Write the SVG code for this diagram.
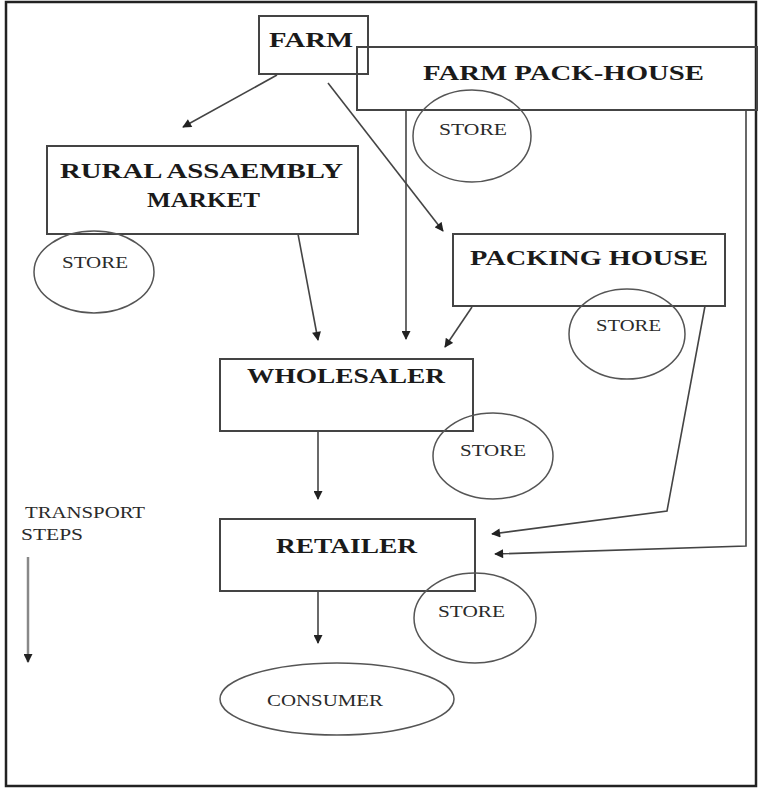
<svg xmlns="http://www.w3.org/2000/svg" width="759" height="789" viewBox="0 0 759 789">
<style>
.box{fill:none;stroke:#444;stroke-width:2}
.ell{fill:none;stroke:#555;stroke-width:1.5}
.title{font-family:"Liberation Serif",serif;font-weight:bold;font-size:21px;fill:#1a1a1a}
.small{font-family:"Liberation Serif",serif;font-size:17px;fill:#2a2a2a}
.con{fill:none;stroke:#444;stroke-width:1.6}
</style>
<defs>
<marker id="ah" viewBox="0 0 10 10" refX="9" refY="5" markerWidth="10" markerHeight="9" orient="auto" markerUnits="userSpaceOnUse">
<path d="M0,0 L10,5 L0,10 z" fill="#222"/>
</marker>
</defs>
<rect x="0" y="0" width="759" height="789" fill="#fff"/>
<rect x="6" y="2" width="750" height="784" fill="none" stroke="#222" stroke-width="2.5"/>

<g id="farm-pack-house">
<rect class="box" x="357" y="47" width="400" height="63"/>
<text class="title" x="423" y="80" textLength="281" lengthAdjust="spacingAndGlyphs">FARM PACK-HOUSE</text>
</g>
<g id="farm">
<rect class="box" x="259" y="16" width="109" height="58"/>
<text class="title" x="269" y="47" textLength="84" lengthAdjust="spacingAndGlyphs">FARM</text>
</g>
<g id="store-farm-pack-house">
<ellipse class="ell" cx="472" cy="136" rx="59" ry="46"/>
<text class="small" x="439" y="135" textLength="68" lengthAdjust="spacingAndGlyphs">STORE</text>
</g>
<g id="rural-assembly-market">
<rect class="box" x="47" y="146" width="311" height="88"/>
<text class="title" x="60" y="178" textLength="283" lengthAdjust="spacingAndGlyphs">RURAL ASSAEMBLY</text>
<text class="title" x="147" y="207" textLength="113" lengthAdjust="spacingAndGlyphs">MARKET</text>
</g>
<g id="store-rural">
<ellipse class="ell" cx="94" cy="272" rx="60" ry="41"/>
<text class="small" x="62" y="268" textLength="66" lengthAdjust="spacingAndGlyphs">STORE</text>
</g>
<g id="packing-house">
<rect class="box" x="453" y="234" width="272" height="72"/>
<text class="title" x="470" y="265" textLength="238" lengthAdjust="spacingAndGlyphs">PACKING HOUSE</text>
</g>
<g id="store-packing">
<ellipse class="ell" cx="627" cy="334" rx="58" ry="45"/>
<text class="small" x="596" y="331" textLength="65" lengthAdjust="spacingAndGlyphs">STORE</text>
</g>
<g id="wholesaler">
<rect class="box" x="220" y="359" width="253" height="72"/>
<text class="title" x="247" y="383" textLength="198" lengthAdjust="spacingAndGlyphs">WHOLESALER</text>
</g>
<g id="store-wholesaler">
<ellipse class="ell" cx="493" cy="456" rx="60" ry="43"/>
<text class="small" x="460" y="456" textLength="66" lengthAdjust="spacingAndGlyphs">STORE</text>
</g>
<g id="retailer">
<rect class="box" x="220" y="519" width="255" height="72"/>
<text class="title" x="276" y="553" textLength="141" lengthAdjust="spacingAndGlyphs">RETAILER</text>
</g>
<g id="store-retailer">
<ellipse class="ell" cx="475" cy="618" rx="61" ry="45"/>
<text class="small" x="438" y="617" textLength="67" lengthAdjust="spacingAndGlyphs">STORE</text>
</g>
<g id="consumer">
<ellipse class="ell" cx="337" cy="699" rx="117" ry="36"/>
<text class="small" x="267" y="706" textLength="116" lengthAdjust="spacingAndGlyphs">CONSUMER</text>
</g>
<g id="transport-steps">
<text class="small" x="25" y="518" textLength="120" lengthAdjust="spacingAndGlyphs">TRANSPORT</text>
<text class="small" x="21" y="540" textLength="62" lengthAdjust="spacingAndGlyphs">STEPS</text>
<line class="con" x1="28" y1="557" x2="28" y2="662" style="stroke:#888;stroke-width:2.5" marker-end="url(#ah)"/>
</g>

<g id="connectors">
<line class="con" x1="277" y1="75" x2="183" y2="127" marker-end="url(#ah)"/>
<line class="con" x1="328" y1="83" x2="443" y2="231" marker-end="url(#ah)"/>
<line class="con" x1="406" y1="110" x2="406" y2="339" marker-end="url(#ah)"/>
<polyline class="con" points="746,110 746,546 495,554" marker-end="url(#ah)"/>
<line class="con" x1="298" y1="234" x2="318" y2="340" marker-end="url(#ah)"/>
<line class="con" x1="472" y1="307" x2="445" y2="347" marker-end="url(#ah)"/>
<polyline class="con" points="705,306 667,511 492,534" marker-end="url(#ah)"/>
<line class="con" x1="318" y1="431" x2="318" y2="499" marker-end="url(#ah)"/>
<line class="con" x1="318" y1="591" x2="318" y2="643" marker-end="url(#ah)"/>
</g>
</svg>
